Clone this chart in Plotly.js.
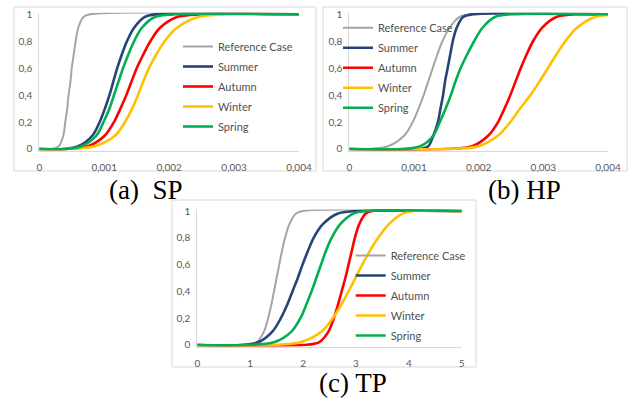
<!DOCTYPE html>
<html>
<head>
<meta charset="utf-8">
<script src="https://cdn.plot.ly/plotly-3.0.1.min.js"></script>
<style>html,body{margin:0;padding:0;background:#fff;}#chart{width:632px;height:401px;}</style>
</head>
<body>
<div id="chart"></div>
<script>
// ---------- data ----------
const seriesNames = ['Reference Case', 'Summer', 'Autumn', 'Winter', 'Spring'];
const seriesColors = ['#A5A5A5', '#264478', '#FF0000', '#FFC000', '#00B050'];

// cumulative probability levels (shared by all curves)
const probLevels = [0, 0, 0.02, 0.1, 0.2, 0.3, 0.4, 0.5, 0.6, 0.7, 0.8, 0.9, 0.98, 1, 1];

// (a) SP
const spReference = [0, 0.0002, 0.0003, 0.00037, 0.0004, 0.00043, 0.00045, 0.00048, 0.0005, 0.00053, 0.00056, 0.0006, 0.00068, 0.00078, 0.004];
const spSummer    = [0, 0.0004, 0.0006, 0.00082, 0.00093, 0.00101, 0.00108, 0.00114, 0.0012, 0.00127, 0.00135, 0.00146, 0.00162, 0.0018, 0.004];
const spAutumn    = [0, 0.0004, 0.00075, 0.00101, 0.00115, 0.00125, 0.00134, 0.00142, 0.0015, 0.0016, 0.00171, 0.00186, 0.00212, 0.0025, 0.004];
const spWinter    = [0, 0.0004, 0.00085, 0.00117, 0.00132, 0.00143, 0.00152, 0.0016, 0.00169, 0.0018, 0.00193, 0.00212, 0.00245, 0.0029, 0.004];
const spSpring    = [0, 0.0004, 0.00065, 0.00088, 0.00099, 0.00108, 0.00115, 0.00122, 0.00129, 0.00137, 0.00146, 0.00158, 0.00178, 0.0021, 0.004];

// (b) HP
const hpReference = [0, 0.0003, 0.0006, 0.00085, 0.00098, 0.00107, 0.00115, 0.00122, 0.00129, 0.00136, 0.00144, 0.00155, 0.0017, 0.0019, 0.004];
const hpSummer    = [0, 0.0011, 0.00122, 0.0013, 0.00137, 0.00141, 0.00145, 0.00148, 0.00152, 0.00156, 0.0016, 0.00166, 0.00176, 0.0019, 0.004];
const hpAutumn    = [0, 0.0015, 0.0019, 0.00215, 0.0023, 0.0024, 0.00249, 0.00257, 0.00265, 0.00274, 0.00284, 0.00298, 0.0032, 0.0035, 0.004];
const hpWinter    = [0, 0.0015, 0.002, 0.0023, 0.00249, 0.00264, 0.0028, 0.00294, 0.00307, 0.0032, 0.00334, 0.00352, 0.0038, 0.0042, 0.0045];
const hpSpring    = [0, 0.0008, 0.0011, 0.0013, 0.0014, 0.00149, 0.00157, 0.00164, 0.00172, 0.00182, 0.00193, 0.00206, 0.00225, 0.0025, 0.004];

// (c) TP
const tpReference = [0, 0.9, 1.12, 1.26, 1.34, 1.4, 1.45, 1.5, 1.55, 1.6, 1.66, 1.74, 1.86, 2.0, 5];
const tpSummer    = [0, 0.8, 1.15, 1.42, 1.58, 1.7, 1.8, 1.9, 1.99, 2.09, 2.2, 2.37, 2.65, 3.0, 5];
const tpAutumn    = [0, 2.0, 2.3, 2.48, 2.58, 2.66, 2.73, 2.8, 2.86, 2.92, 2.98, 3.06, 3.18, 3.3, 5];
const tpWinter    = [0, 1.4, 1.95, 2.35, 2.56, 2.72, 2.86, 2.99, 3.12, 3.26, 3.42, 3.62, 3.88, 4.1, 5];
const tpSpring    = [0, 0.9, 1.45, 1.78, 1.95, 2.06, 2.16, 2.25, 2.34, 2.43, 2.54, 2.7, 2.95, 3.2, 5];

// tick labels
const xTickValsSmall = [0, 0.001, 0.002, 0.003, 0.004];
const xTickTextSmall = ['0', '0,001', '0,002', '0,003', '0,004'];
const xTickValsTP = [0, 1, 2, 3, 4, 5];
const xTickTextTP = ['0', '1', '2', '3', '4', '5'];
const yTickVals = [0, 0.2, 0.4, 0.6, 0.8, 1];
const yTickText = ['0', '0,2', '0,4', '0,6', '0,8', '1'];

const captions = ['(a)  SP', '(b) HP', '(c) TP'];

// ---------- build ----------
const W = 632, H = 401;
const px = v => v / W;
const py = v => 1 - v / H;

const panels = [
  {series: [spReference, spSummer, spAutumn, spWinter, spSpring], xa: 'x', ya: 'y', legend: 'legend'},
  {series: [hpReference, hpSummer, hpAutumn, hpWinter, hpSpring], xa: 'x2', ya: 'y2', legend: 'legend2'},
  {series: [tpReference, tpSummer, tpAutumn, tpWinter, tpSpring], xa: 'x3', ya: 'y3', legend: 'legend3'}
];

const traces = [];
panels.forEach((p, k) => {
  p.series.forEach((xs, i) => {
    traces.push({
      type: 'scatter', mode: 'lines',
      x: xs, y: probLevels,
      xaxis: p.xa, yaxis: p.ya,
      name: seriesNames[i], legend: p.legend, legendgroup: 'g' + k + '_' + i,
      line: {color: seriesColors[i], width: i === 0 ? 2 : 2.6, shape: 'spline', smoothing: 0.9},
      hoverinfo: 'skip'
    });
  });
});

const tickFont = {family: 'Lato, "Open Sans", sans-serif', size: 10, color: '#595959'};
const legFont = {family: 'Lato, "Open Sans", sans-serif', size: 11, color: '#505050'};
const axisLine = '#D9D9D9';

function xAxis(domain, range, vals, text, anchor) {
  return {domain: domain, range: range, tickvals: vals, ticktext: text, anchor: anchor,
    showgrid: false, zeroline: false, showline: true, linecolor: axisLine, linewidth: 1,
    ticks: 'outside', ticklen: 7, tickcolor: 'rgba(0,0,0,0)', tickfont: tickFont, fixedrange: true};
}
function yAxis(domain, anchor) {
  return {domain: domain, range: [-0.012, 1.012], tickvals: yTickVals, ticktext: yTickText, anchor: anchor,
    showgrid: false, zeroline: false, showline: true, linecolor: axisLine, linewidth: 1,
    ticks: 'outside', ticklen: 4, tickcolor: 'rgba(0,0,0,0)', tickfont: tickFont, fixedrange: true};
}
function legendAt(x, y) {
  return {x: x, y: y, xanchor: 'left', yanchor: 'top', bgcolor: 'rgba(0,0,0,0)',
    font: legFont, orientation: 'v', tracegroupgap: 1};
}
function frame(x0, y0, x1, y1) {
  return {type: 'rect', xref: 'paper', yref: 'paper', x0: px(x0), x1: px(x1), y0: py(y1), y1: py(y0),
    line: {color: '#D9D9D9', width: 1}, fillcolor: 'rgba(0,0,0,0)', layer: 'below'};
}
function caption(text, cx, cy) {
  return {text: text, xref: 'paper', yref: 'paper', x: px(cx), y: py(cy), xanchor: 'center', yanchor: 'middle',
    showarrow: false, font: {family: '"Liberation Serif", "Times New Roman", serif', size: 27, color: '#000'}};
}

const layout = {
  width: W, height: H,
  margin: {l: 0, r: 0, t: 0, b: 0},
  paper_bgcolor: '#fff', plot_bgcolor: 'rgba(0,0,0,0)',
  showlegend: true,
  xaxis:  xAxis([px(39.3), px(299)], [0, 0.004], xTickValsSmall, xTickTextSmall, 'y'),
  yaxis:  yAxis([py(150.6), py(12.7)], 'x'),
  xaxis2: xAxis([px(349.3), px(608)], [0, 0.004], xTickValsSmall, xTickTextSmall, 'y2'),
  yaxis2: yAxis([py(150.6), py(12.7)], 'x2'),
  xaxis3: xAxis([px(197.3), px(461.7)], [0, 5], xTickValsTP, xTickTextTP, 'y3'),
  yaxis3: yAxis([py(346.6), py(209.4)], 'x3'),
  legend:  legendAt(px(178), py(32)),
  legend2: legendAt(px(338), py(13.3)),
  legend3: legendAt(px(350.7), py(241)),
  shapes: [frame(14, 7, 316, 171), frame(323, 7, 627, 171), frame(172, 200, 476, 367)],
  annotations: [caption(captions[0], 146, 190), caption(captions[1], 524, 190), caption(captions[2], 353, 383)]
};

Plotly.newPlot('chart', traces, layout, {staticPlot: true, displayModeBar: false});
</script>
</body>
</html>
